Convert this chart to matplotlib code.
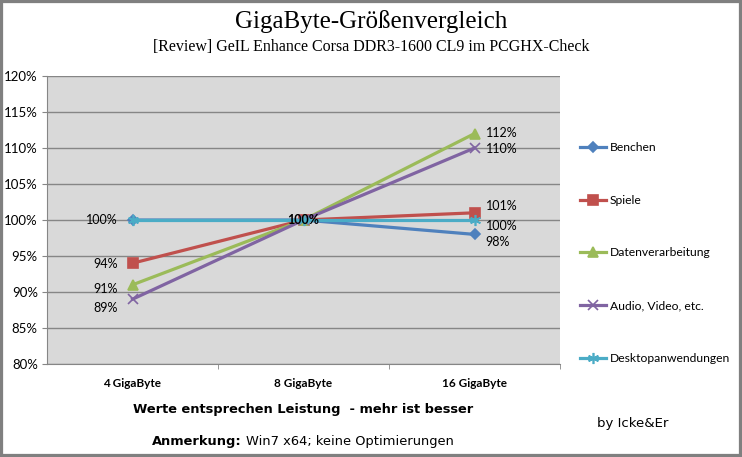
import matplotlib
matplotlib.use("Agg")
import matplotlib.pyplot as plt
from matplotlib.patches import Rectangle

categories = ["4 GigaByte", "8 GigaByte", "16 GigaByte"]
series_names = ["Benchen", "Spiele", "Datenverarbeitung", "Audio, Video, etc.", "Desktopanwendungen"]
benchen = [100, 100, 98]
spiele = [94, 100, 101]
daten = [91, 100, 112]
audio = [89, 100, 110]
desktop = [100, 100, 100]
y_ticks = [80, 85, 90, 95, 100, 105, 110, 115, 120]

series = [benchen, spiele, daten, audio, desktop]
colors = ["#4F81BD", "#C0504D", "#9BBB59", "#8064A2", "#4BACC6"]
markers = ["D", "s", "^", "x", (6, 2, 0)]
msizes = [5.5, 7, 7.5, 7, 8]

FONT = ["Lato", "DejaVu Sans"]
plt.rcParams['font.family'] = FONT

W, H = 742, 457
fig = plt.figure(figsize=(W / 100, H / 100), dpi=100)
fig.patch.set_facecolor("white")

def fx(px):
    return px / W

def fy(py):
    return 1 - py / H

ax = fig.add_axes([fx(47), fy(364), fx(560) - fx(47), fy(76) - fy(364)])
ax.set_facecolor("#D9D9D9")
ax.set_xlim(-0.5, 2.5)
ax.set_ylim(80, 120)
ax.set_yticks(y_ticks)
ax.set_yticklabels([f"{v}%" for v in y_ticks], fontsize=9.5)
ax.yaxis.grid(True, color="#868686", linewidth=1.0)
ax.set_axisbelow(True)
ax.set_xticks(range(len(categories)))
ax.set_xticklabels(categories, fontsize=8.5, fontweight="bold")
ax.set_xticks([0.5, 1.5, 2.5], minor=True)
ax.tick_params(axis="x", which="major", length=0, pad=10)
ax.tick_params(axis="x", which="minor", length=3.6, color="#868686")
ax.tick_params(axis="y", length=3.6, color="#868686", pad=3)
for s in ["top", "right"]:
    ax.spines[s].set_visible(False)
for s in ["left", "bottom"]:
    ax.spines[s].set_color("#868686")

x = list(range(len(categories)))
handles = []
for vals, name, c, m, ms in zip(series, series_names, colors, markers, msizes):
    ln, = ax.plot(x, vals, color=c, linewidth=2.3, marker=m, markersize=ms,
                  markeredgecolor=c, markerfacecolor=c, markeredgewidth=1.2, label=name)
    handles.append(ln)

# data labels (4 GB: left side, 16 GB: right side)
left_offsets = {0: None, 1: -1, 2: -4, 3: -9, 4: 0}
right_offsets = {0: -8, 1: 7, 2: 1, 3: -1, 4: -6}
for i, vals in enumerate(series):
    if left_offsets[i] is not None:
        ax.annotate(f"{vals[0]}%", (0, vals[0]), xytext=(-15, left_offsets[i]),
                    textcoords="offset pixels", ha="right", va="center", fontsize=9)
    ax.annotate(f"{vals[2]}%", (2, vals[2]), xytext=(11, right_offsets[i]),
                textcoords="offset pixels", ha="left", va="center", fontsize=9)
ax.annotate(f"{desktop[1]}%", (1, desktop[1]), xytext=(0, 0), textcoords="offset pixels",
            ha="center", va="center", fontsize=9, fontweight="bold")

leg = fig.legend(handles=handles, loc="center left", bbox_to_anchor=(fx(569), fy(253)),
                 frameon=False, fontsize=8.7, handlelength=2.2, handletextpad=0.3,
                 labelspacing=3.45)

SERIF = ["Liberation Serif", "DejaVu Serif"]
fig.text(fx(371), fy(22), "GigaByte-Größenvergleich", ha="center", va="center",
         fontsize=18, family=SERIF)
fig.text(fx(371), fy(47), "[Review] GeIL Enhance Corsa DDR3-1600 CL9 im PCGHX-Check",
         ha="center", va="center", fontsize=11.5, family=SERIF)
SANS = ["DejaVu Sans"]
fig.text(fx(303), fy(409), "Werte entsprechen Leistung  - mehr ist besser", ha="center",
         va="center", fontsize=9.4, fontweight="bold", family=SANS)
fig.text(fx(597), fy(424), "by Icke&Er", ha="left", va="center", fontsize=9.5, family=SANS)
t1 = fig.text(fx(152), fy(441), "Anmerkung:", ha="left", va="center", fontsize=9.4,
              fontweight="bold", family=SANS)
fig.canvas.draw()
bb = t1.get_window_extent()
fig.text(bb.x1 / W + fx(4), fy(441), "Win7 x64; keine Optimierungen", ha="left",
         va="center", fontsize=9.4, family=SANS)

fig.patches.append(Rectangle((0, 0), 1, 1, transform=fig.transFigure, fill=False,
                             edgecolor="#808080", linewidth=4.5, zorder=10))

fig.savefig("out.png", dpi=100, facecolor="white")
